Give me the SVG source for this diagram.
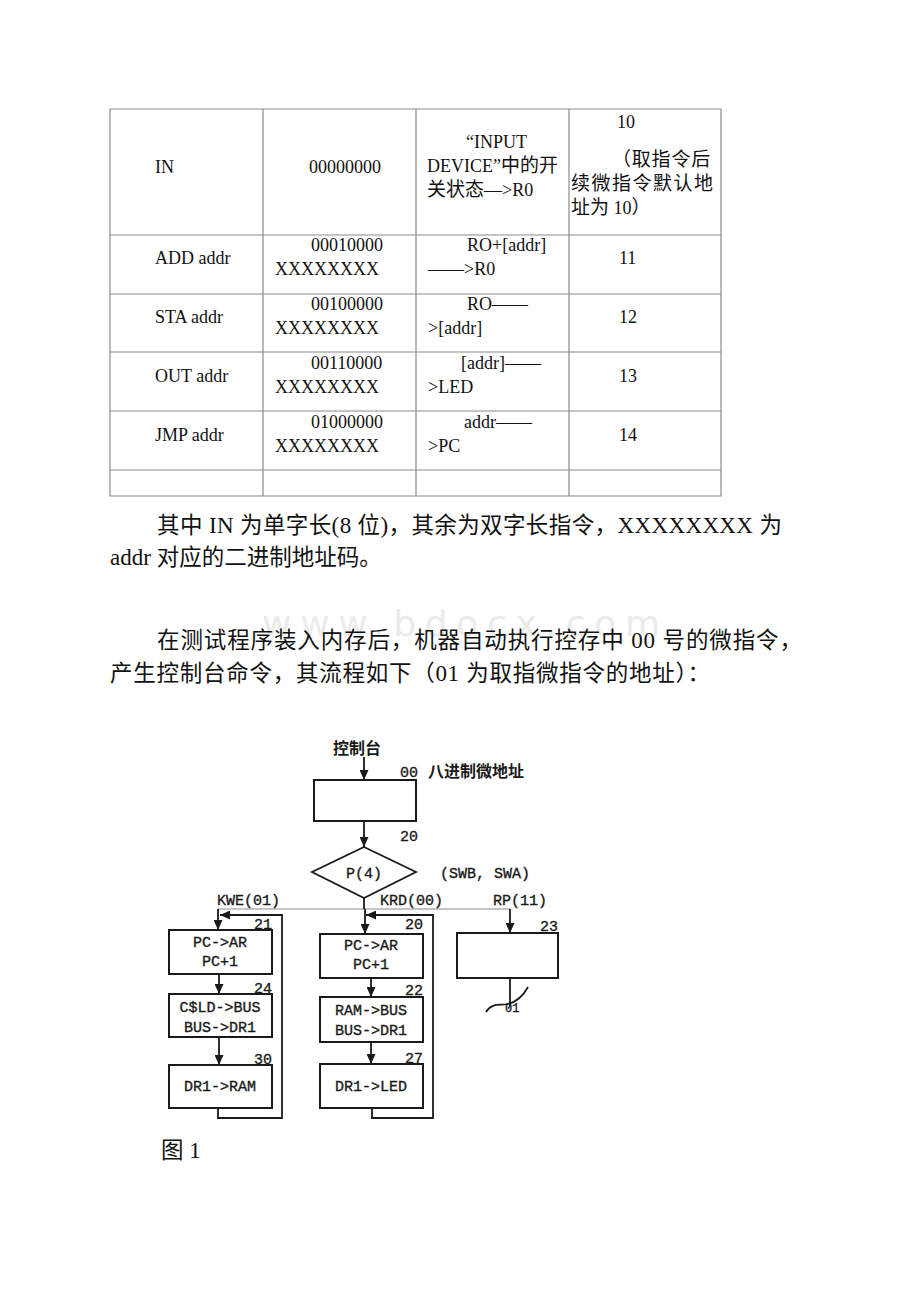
<svg xmlns="http://www.w3.org/2000/svg" width="920" height="1302" viewBox="0 0 920 1302">
<style>
.grid{stroke:#8a8a8a;stroke-width:1.2;fill:none}
.tt{font-family:"Liberation Serif","Noto Sans CJK SC",serif;font-size:18px;fill:#111}
.cj{font-family:"Noto Sans CJK SC",sans-serif;font-size:19px}
.pp{font-family:"Liberation Serif","Noto Sans CJK SC",serif;font-size:23px;fill:#111}
.pc{font-family:"Noto Sans CJK SC",sans-serif;font-size:22.5px}
.box{fill:#fff;stroke:#1a1a1a;stroke-width:2}
.ln{stroke:#1a1a1a;stroke-width:1.8;fill:none}
.thin{stroke:#8a8a8a;stroke-width:1.2;fill:none}
.mo{font-family:"Liberation Mono","DejaVu Sans Mono",monospace;font-size:15px;fill:#1a1a1a;stroke:#1a1a1a;stroke-width:0.35}
.zh{font-family:"Noto Sans CJK SC",sans-serif;font-size:16px;font-weight:700;fill:#1a1a1a}
.wm{font-family:"DejaVu Sans",sans-serif;font-size:36px;fill:#ebebeb}
</style>
<defs>
<marker id="ah" markerUnits="userSpaceOnUse" markerWidth="10" markerHeight="9" refX="10" refY="4.5" orient="auto">
<path d="M0,0 L10,4.5 L0,9 z" fill="#1a1a1a"/>
</marker>
</defs>
<rect width="920" height="1302" fill="#fff"/>

<g id="watermark">
<text class="wm" x="262" y="636" textLength="398" lengthAdjust="spacing">www.bdocx.com</text>
</g>

<g id="table">
<path class="grid" d="M110,109 H721 V496 H110 Z M110,235 H721 M110,294 H721 M110,352 H721 M110,411 H721 M110,470 H721 M263,109 V496 M416,109 V496 M569,109 V496"/>
<text class="tt" x="155" y="173">IN</text>
<text class="tt" x="309" y="173">00000000</text>
<text class="tt" x="466" y="148">“INPUT</text>
<text class="tt" x="427" y="172">DEVICE”<tspan class="cj">中的开</tspan></text>
<text class="tt" x="427" y="196"><tspan class="cj">关状态</tspan>—&gt;R0</text>
<text class="tt" x="617" y="128">10</text>
<text class="tt" x="612" y="166"><tspan class="cj" letter-spacing="0.8">（取指令后</tspan></text>
<text class="tt" x="571" y="190"><tspan class="cj" letter-spacing="1.5">续微指令默认地</tspan></text>
<text class="tt" x="571" y="214"><tspan class="cj">址为</tspan> 10<tspan class="cj">）</tspan></text>

<text class="tt" x="155" y="264">ADD addr</text>
<text class="tt" x="311" y="251">00010000</text>
<text class="tt" x="275" y="275">XXXXXXXX</text>
<text class="tt" x="467" y="251">RO+[addr]</text>
<text class="tt" x="428" y="275">——&gt;R0</text>
<text class="tt" x="619" y="264">11</text>

<text class="tt" x="155" y="323">STA addr</text>
<text class="tt" x="311" y="310">00100000</text>
<text class="tt" x="275" y="334">XXXXXXXX</text>
<text class="tt" x="467" y="310">RO——</text>
<text class="tt" x="428" y="334">&gt;[addr]</text>
<text class="tt" x="619" y="323">12</text>

<text class="tt" x="155" y="382">OUT addr</text>
<text class="tt" x="311" y="369">00110000</text>
<text class="tt" x="275" y="393">XXXXXXXX</text>
<text class="tt" x="461" y="369">[addr]——</text>
<text class="tt" x="428" y="393">&gt;LED</text>
<text class="tt" x="619" y="382">13</text>

<text class="tt" x="155" y="441">JMP addr</text>
<text class="tt" x="311" y="428">01000000</text>
<text class="tt" x="275" y="452">XXXXXXXX</text>
<text class="tt" x="464" y="428">addr——</text>
<text class="tt" x="428" y="452">&gt;PC</text>
<text class="tt" x="619" y="441">14</text>
</g>

<g id="paragraphs">
<text class="pp" x="157" y="533" textLength="625" lengthAdjust="spacing"><tspan class="pc">其中</tspan> IN <tspan class="pc">为单字长</tspan>(8 <tspan class="pc">位</tspan>)<tspan class="pc">，其余为双字长指令，</tspan>XXXXXXXX <tspan class="pc">为</tspan></text>
<text class="pp" x="110" y="565">addr <tspan class="pc">对应的二进制地址码。</tspan></text>
<text class="pp" x="157" y="648" textLength="645" lengthAdjust="spacing"><tspan class="pc">在测试程序装入内存后，机器自动执行控存中</tspan> 00 <tspan class="pc">号的微指令，</tspan></text>
<text class="pp" x="110" y="681" textLength="600" lengthAdjust="spacing"><tspan class="pc">产生控制台命令，其流程如下（</tspan>01 <tspan class="pc">为取指微指令的地址）：</tspan></text>
</g>

<g id="connectors">
<line class="ln" x1="364" y1="757" x2="364" y2="780" marker-end="url(#ah)"/>
<line class="ln" x1="364" y1="821" x2="364" y2="847" marker-end="url(#ah)"/>
<line class="thin" x1="218" y1="909" x2="510" y2="909"/>
<line class="ln" x1="364" y1="898" x2="364" y2="909"/>
<line class="ln" x1="218" y1="909" x2="218" y2="930" marker-end="url(#ah)"/>
<line class="ln" x1="365" y1="909" x2="365" y2="934" marker-end="url(#ah)"/>
<line class="ln" x1="510" y1="909" x2="510" y2="933" marker-end="url(#ah)"/>
<line class="ln" x1="219" y1="974" x2="219" y2="994" marker-end="url(#ah)"/>
<line class="ln" x1="219" y1="1037" x2="219" y2="1065" marker-end="url(#ah)"/>
<polyline class="ln" points="218,1108 218,1118 282,1118 282,915 220,915" marker-end="url(#ah)"/>
<line class="ln" x1="371" y1="978" x2="371" y2="997" marker-end="url(#ah)"/>
<line class="ln" x1="371" y1="1042" x2="371" y2="1064" marker-end="url(#ah)"/>
<polyline class="ln" points="372,1108 372,1118 433,1118 433,915 366,915" marker-end="url(#ah)"/>
<line class="ln" x1="510" y1="978" x2="510" y2="1007"/>
<path class="ln" d="M486,1012 C492,1002 500,1006 508,1004 S522,998 528,987" stroke-width="1.4"/>
</g>

<g id="n-console">
<text class="zh" x="357" y="754" text-anchor="middle">控制台</text>
<text class="mo" x="400" y="777">00</text>
<text class="zh" x="428" y="777">八进制微地址</text>
</g>
<g id="n-00">
<rect class="box" x="314" y="780" width="102" height="41"/>
<text class="mo" x="400" y="841">20</text>
</g>
<g id="n-p4">
<polygon class="ln" points="364,847 416,872 364,898 312,872" fill="#fff"/>
<text class="mo" x="364" y="878" text-anchor="middle">P(4)</text>
<text class="mo" x="440" y="878">(SWB, SWA)</text>
<text class="mo" x="217" y="905">KWE(01)</text>
<text class="mo" x="380" y="905">KRD(00)</text>
<text class="mo" x="493" y="905">RP(11)</text>
</g>
<g id="n-21">
<rect class="box" x="169" y="930" width="103" height="44"/>
<text class="mo" x="272" y="929" text-anchor="end">21</text>
<text class="mo" x="220" y="947" text-anchor="middle">PC-&gt;AR</text>
<text class="mo" x="220" y="966" text-anchor="middle">PC+1</text>
</g>
<g id="n-24">
<rect class="box" x="169" y="994" width="103" height="43"/>
<text class="mo" x="272" y="993" text-anchor="end">24</text>
<text class="mo" x="220" y="1012" text-anchor="middle">C$LD-&gt;BUS</text>
<text class="mo" x="220" y="1032" text-anchor="middle">BUS-&gt;DR1</text>
</g>
<g id="n-30">
<rect class="box" x="169" y="1065" width="103" height="43"/>
<text class="mo" x="272" y="1064" text-anchor="end">30</text>
<text class="mo" x="220" y="1091" text-anchor="middle">DR1-&gt;RAM</text>
</g>
<g id="n-20">
<rect class="box" x="320" y="934" width="103" height="44"/>
<text class="mo" x="423" y="929" text-anchor="end">20</text>
<text class="mo" x="371" y="950" text-anchor="middle">PC-&gt;AR</text>
<text class="mo" x="371" y="969" text-anchor="middle">PC+1</text>
</g>
<g id="n-22">
<rect class="box" x="320" y="997" width="103" height="45"/>
<text class="mo" x="423" y="995" text-anchor="end">22</text>
<text class="mo" x="371" y="1015" text-anchor="middle">RAM-&gt;BUS</text>
<text class="mo" x="371" y="1035" text-anchor="middle">BUS-&gt;DR1</text>
</g>
<g id="n-27">
<rect class="box" x="320" y="1064" width="103" height="44"/>
<text class="mo" x="423" y="1063" text-anchor="end">27</text>
<text class="mo" x="371" y="1091" text-anchor="middle">DR1-&gt;LED</text>
</g>
<g id="n-23">
<rect class="box" x="457" y="933" width="101" height="45"/>
<text class="mo" x="558" y="931" text-anchor="end">23</text>
<text class="mo" x="505" y="1012" style="font-size:12px">01</text>
</g>
<g id="caption">
<text class="pp" x="161" y="1158"><tspan class="pc">图</tspan> 1</text>
</g>
</svg>
